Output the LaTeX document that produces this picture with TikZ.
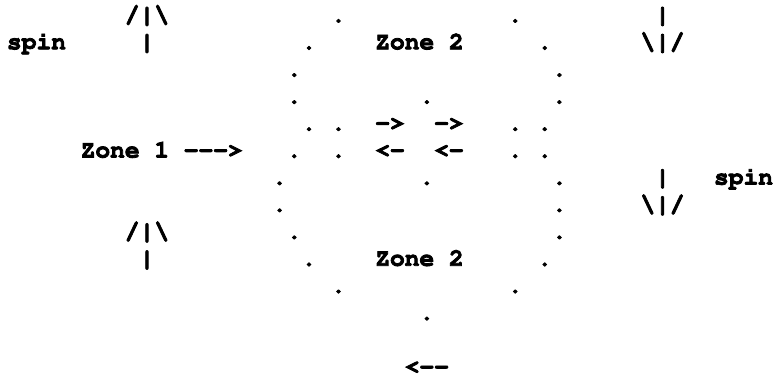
\documentclass[tikz,border=0pt]{standalone}
\usepackage[T1]{fontenc}
\begin{document}
% Character grid: 14.73pt per column, 27.06pt per row, bold Courier
\newcommand\colw{14.73}
\newcommand\rowh{27.06}
\newcommand\glyphs[4]{%
  \node[art] (#1) at ({7.04+\colw*#2},{-22.2-\rowh*(#3-1)}) {#4};}
\newcommand\bs{\textbackslash}
% heavier glyphs: fill and stroke the outlines
\newcommand\heavy{\special{pdf:literal 2 Tr 0.8 w}}
\begin{tikzpicture}[x=1pt,y=1pt,
  art/.style={anchor=base west,inner sep=0pt,outer sep=0pt,
    font=\fontfamily{pcr}\fontseries{b}\fontsize{24.55}{27}\selectfont\heavy}]
\useasboundingbox (0,0) rectangle (774,-378);
% row 1
\glyphs{upA}{8}{1}{/|\bs}
\glyphs{dA1}{22}{1}{.}
\glyphs{dA2}{34}{1}{.}
\glyphs{downAtop}{44}{1}{|}
% row 2
\glyphs{spinA}{0}{2}{spin}
\glyphs{upAstem}{9}{2}{|}
\glyphs{dB1}{20}{2}{.}
\glyphs{zoneTop}{25}{2}{Zone 2}
\glyphs{dB2}{36}{2}{.}
\glyphs{downA}{43}{2}{\bs|/}
% row 3
\glyphs{dC1}{19}{3}{.}
\glyphs{dC2}{37}{3}{.}
% row 4
\glyphs{dD1}{19}{4}{.}
\glyphs{dD2}{28}{4}{.}
\glyphs{dD3}{37}{4}{.}
% row 5
\glyphs{dE1}{20}{5}{.}
\glyphs{dE2}{22}{5}{.}
\glyphs{rA}{25}{5}{-{}>}
\glyphs{rB}{29}{5}{-{}>}
\glyphs{dE3}{34}{5}{.}
\glyphs{dE4}{36}{5}{.}
% row 6
\glyphs{zoneOne}{5}{6}{Zone 1 -{}-{}-{}>}
\glyphs{dF1}{19}{6}{.}
\glyphs{dF2}{22}{6}{.}
\glyphs{lA}{25}{6}{<{}-}
\glyphs{lB}{29}{6}{<{}-}
\glyphs{dF3}{34}{6}{.}
\glyphs{dF4}{36}{6}{.}
% row 7
\glyphs{dG1}{18}{7}{.}
\glyphs{dG2}{28}{7}{.}
\glyphs{dG3}{37}{7}{.}
\glyphs{downBtop}{44}{7}{|}
\glyphs{spinB}{48}{7}{spin}
% row 8
\glyphs{dH1}{18}{8}{.}
\glyphs{dH2}{37}{8}{.}
\glyphs{downB}{43}{8}{\bs|/}
% row 9
\glyphs{upB}{8}{9}{/|\bs}
\glyphs{dI1}{19}{9}{.}
\glyphs{dI2}{37}{9}{.}
% row 10
\glyphs{upBstem}{9}{10}{|}
\glyphs{dJ1}{20}{10}{.}
\glyphs{zoneBottom}{25}{10}{Zone 2}
\glyphs{dJ2}{36}{10}{.}
% row 11
\glyphs{dK1}{22}{11}{.}
\glyphs{dK2}{34}{11}{.}
% row 12
\glyphs{dL1}{28}{12}{.}
% row 14
\glyphs{back}{27}{14}{<{}-{}-}
\end{tikzpicture}
\end{document}
